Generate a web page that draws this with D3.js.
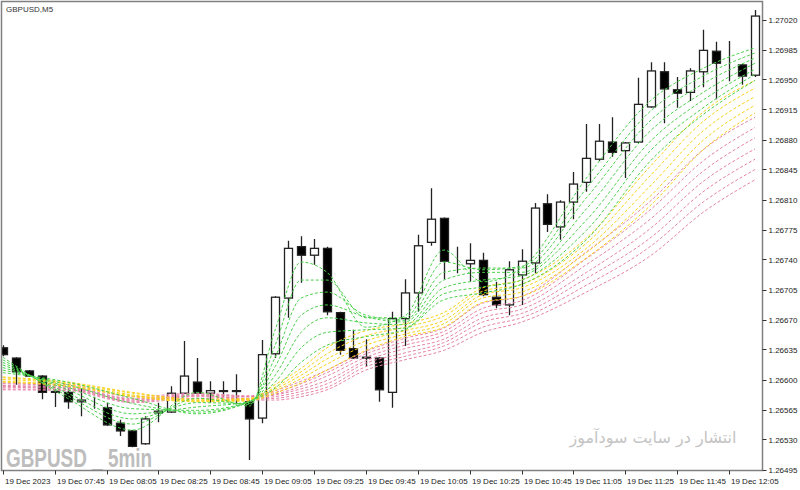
<!DOCTYPE html>
<html>
<head>
<meta charset="utf-8">
<script src="https://cdn.jsdelivr.net/npm/d3@7"></script>
<style>
body { margin: 0; background: #fff; }
svg { display: block; }
</style>
</head>
<body>
<div id="chart"></div>
<script>
// GBPUSD M5, 19 Dec 2023, bars from 07:25 to 12:15
var opens = [1.26637,1.26625,1.26610,1.26604,1.26586,1.26585,1.26574,1.26575,1.26567,1.26549,
    1.26540,1.26525,1.26561,1.26562,1.26584,1.26597,1.26584,1.26586,1.26587,1.26574,
    1.26555,1.26630,1.26695,1.26755,1.26745,1.26753,1.26678,1.26636,1.26626,1.26625,
    1.26585,1.26671,1.26701,1.26760,1.26788,1.26735,1.26735,1.26739,1.26696,1.26687,
    1.26722,1.26736,1.26805,1.26778,1.26807,1.26830,1.26857,1.26877,1.26867,1.26877,
    1.26918,1.26959,1.26938,1.26935,1.26959,1.26983,1.26968,1.26967,1.26955];
var highs = [1.26640,1.26626,1.26611,1.26605,1.26589,1.26590,1.26589,1.26580,1.26573,1.26553,
    1.26541,1.26557,1.26573,1.26592,1.26645,1.26625,1.26598,1.26598,1.26606,1.26576,
    1.26646,1.26697,1.26762,1.26767,1.26764,1.26755,1.26679,1.26658,1.26647,1.26626,
    1.26679,1.26717,1.26769,1.26823,1.26789,1.26755,1.26759,1.26748,1.26714,1.26738,
    1.26752,1.26806,1.26816,1.26809,1.26842,1.26898,1.26898,1.26906,1.26877,1.26952,
    1.26970,1.26970,1.26953,1.26963,1.27008,1.26994,1.26995,1.26968,1.27031];
var lows = [1.26627,1.26594,1.26603,1.26577,1.26568,1.26566,1.26557,1.26566,1.26546,1.26534,
    1.26521,1.26524,1.26550,1.26561,1.26583,1.26583,1.26573,1.26580,1.26571,1.26506,
    1.26549,1.26625,1.26672,1.26713,1.26734,1.26675,1.26629,1.26624,1.26615,1.26574,
    1.26567,1.26639,1.26679,1.26756,1.26717,1.26724,1.26714,1.26697,1.26683,1.26675,
    1.26687,1.26724,1.26772,1.26763,1.26787,1.26819,1.26855,1.26860,1.26835,1.26876,
    1.26917,1.26899,1.26917,1.26925,1.26941,1.26927,1.26948,1.26944,1.26953];
var closes = [1.26629,1.26609,1.26604,1.26585,1.26585,1.26574,1.26576,1.26575,1.26547,1.26540,
    1.26522,1.26554,1.26563,1.26584,1.26604,1.26584,1.26587,1.26587,1.26586,1.26554,
    1.26629,1.26696,1.26753,1.26745,1.26753,1.26679,1.26634,1.26625,1.26625,1.26588,
    1.26671,1.26701,1.26756,1.26787,1.26738,1.26735,1.26739,1.26699,1.26687,1.26728,
    1.26738,1.26800,1.26781,1.26807,1.26828,1.26858,1.26878,1.26865,1.26876,1.26921,
    1.26960,1.26939,1.26934,1.26960,1.26984,1.26969,1.26968,1.26954,1.27024];

// moving average ribbons, read at these bars (fast line first)
var maBars = [0, 5, 10, 15, 19, 21, 23, 25, 28, 31, 34, 37, 40, 45, 50, 54, 58];
var greenMA = [
    [1.26626,1.26578,1.26541,1.26585,1.26569,1.26658,1.26737,1.26725,1.26661,1.26674,1.26751,1.26714,1.26730,1.26835,1.26926,1.26963,1.26987],
    [1.26623,1.26581,1.26548,1.26578,1.26571,1.26640,1.26716,1.26716,1.26672,1.26672,1.26737,1.26728,1.26732,1.26823,1.26914,1.26954,1.26981],
    [1.26620,1.26584,1.26554,1.26573,1.26572,1.26626,1.26695,1.26702,1.26675,1.26669,1.26725,1.26730,1.26730,1.26812,1.26903,1.26945,1.26975],
    [1.26617,1.26588,1.26560,1.26568,1.26574,1.26615,1.26675,1.26687,1.26673,1.26667,1.26716,1.26725,1.26725,1.26799,1.26891,1.26935,1.26969],
    [1.26614,1.26591,1.26566,1.26564,1.26574,1.26605,1.26655,1.26672,1.26666,1.26664,1.26707,1.26716,1.26721,1.26786,1.26879,1.26926,1.26962],
    [1.26611,1.26594,1.26572,1.26562,1.26574,1.26597,1.26637,1.26655,1.26658,1.26660,1.26700,1.26708,1.26716,1.26774,1.26868,1.26917,1.26956],
    [1.26608,1.26597,1.26578,1.26560,1.26574,1.26590,1.26620,1.26640,1.26650,1.26658,1.26693,1.26701,1.26711,1.26763,1.26856,1.26909,1.26949]
];
var yellowMA = [
    [1.26603,1.26597,1.26585,1.26577,1.26578,1.26594,1.26613,1.26637,1.26657,1.26665,1.26678,1.26707,1.26716,1.26765,1.26850,1.26912,1.26949],
    [1.26602,1.26596,1.26584,1.26576,1.26577,1.26591,1.26609,1.26630,1.26651,1.26661,1.26674,1.26703,1.26711,1.26759,1.26839,1.26901,1.26940],
    [1.26600,1.26595,1.26582,1.26575,1.26577,1.26589,1.26605,1.26624,1.26645,1.26657,1.26669,1.26699,1.26707,1.26753,1.26827,1.26890,1.26930],
    [1.26598,1.26593,1.26581,1.26575,1.26576,1.26587,1.26601,1.26618,1.26640,1.26653,1.26665,1.26695,1.26702,1.26748,1.26815,1.26879,1.26920],
    [1.26597,1.26592,1.26580,1.26574,1.26575,1.26584,1.26596,1.26611,1.26634,1.26650,1.26661,1.26690,1.26697,1.26742,1.26804,1.26868,1.26911]
];
var pinkMA = [
    [1.26596,1.26594,1.26580,1.26584,1.26581,1.26587,1.26598,1.26611,1.26633,1.26648,1.26660,1.26689,1.26697,1.26749,1.26809,1.26868,1.26906],
    [1.26595,1.26592,1.26578,1.26583,1.26580,1.26585,1.26595,1.26608,1.26630,1.26644,1.26656,1.26683,1.26692,1.26741,1.26799,1.26855,1.26894],
    [1.26593,1.26591,1.26577,1.26582,1.26580,1.26583,1.26592,1.26604,1.26626,1.26640,1.26652,1.26678,1.26687,1.26734,1.26788,1.26843,1.26882],
    [1.26592,1.26590,1.26576,1.26581,1.26578,1.26582,1.26589,1.26599,1.26622,1.26636,1.26647,1.26672,1.26682,1.26725,1.26777,1.26831,1.26869],
    [1.26591,1.26589,1.26575,1.26581,1.26578,1.26580,1.26586,1.26595,1.26619,1.26631,1.26643,1.26667,1.26677,1.26718,1.26766,1.26819,1.26857],
    [1.26589,1.26588,1.26574,1.26580,1.26577,1.26578,1.26583,1.26591,1.26615,1.26627,1.26639,1.26661,1.26672,1.26710,1.26756,1.26807,1.26845],
    [1.26588,1.26587,1.26573,1.26578,1.26576,1.26576,1.26580,1.26588,1.26611,1.26623,1.26634,1.26655,1.26667,1.26702,1.26745,1.26795,1.26833]
];

var priceTicks = [1.27020,1.26985,1.26950,1.26915,1.26880,1.26845,1.26810,1.26775,
    1.26740,1.26705,1.26670,1.26635,1.26600,1.26565,1.26530,1.26495];
var timeTickBars = [0, 4, 8, 12, 16, 20, 24, 28, 32, 36, 40, 44, 48, 52, 56];
var timeLabels = ["19 Dec 2023","19 Dec 07:45","19 Dec 08:05","19 Dec 08:25","19 Dec 08:45",
    "19 Dec 09:05","19 Dec 09:25","19 Dec 09:45","19 Dec 10:05","19 Dec 10:25",
    "19 Dec 10:45","19 Dec 11:05","19 Dec 11:25","19 Dec 11:45","19 Dec 12:05"];

var width = 800, height = 490;
var plot = { left: 1.5, top: 1.5, right: 762.5, bottom: 470.5 };

var svg = d3.select("#chart").append("svg")
    .attr("width", width)
    .attr("height", height)
    .style("font-family", "'Liberation Sans', Arial, sans-serif");

var x = d3.scaleLinear().domain([0, opens.length - 1]).range([2.8, 755]);
var y = d3.scaleLinear().domain([1.26495, 1.27020]).range([469.5, 19.5]);

svg.append("clipPath").attr("id", "plotClip")
    .append("rect")
    .attr("x", plot.left).attr("y", plot.top)
    .attr("width", plot.right - plot.left).attr("height", plot.bottom - plot.top);

// watermarks
svg.append("text")
    .attr("x", 6)
    .attr("y", 467)
    .attr("textLength", 146)
    .attr("lengthAdjust", "spacingAndGlyphs")
    .style("font-size", "25px")
    .style("font-weight", "bold")
    .style("fill", "#bdbdbd")
    .text("GBPUSD _ 5min");

svg.append("text")
    .attr("x", 653)
    .attr("y", 443)
    .attr("text-anchor", "middle")
    .style("font-family", "'DejaVu Sans', sans-serif")
    .style("font-size", "16px")
    .style("fill", "#c4c4c4")
    .text("انتشار در سایت سودآموز");

var chart = svg.append("g").attr("clip-path", "url(#plotClip)");

// candles
var bars = d3.range(opens.length);
var candles = chart.append("g").attr("class", "candles");

candles.selectAll("line.wick")
    .data(bars)
    .enter().append("line")
    .attr("class", "wick")
    .attr("x1", function (d) { return Math.round(x(d)) + 0.5; })
    .attr("x2", function (d) { return Math.round(x(d)) + 0.5; })
    .attr("y1", function (d) { return y(highs[d]); })
    .attr("y2", function (d) { return y(lows[d]); })
    .attr("stroke", "#222")
    .attr("stroke-width", 1.3);

candles.selectAll("rect.body")
    .data(bars)
    .enter().append("rect")
    .attr("class", "body")
    .attr("x", function (d) { return Math.round(x(d)) - 3.5; })
    .attr("width", 8)
    .attr("y", function (d) { return y(Math.max(opens[d], closes[d])); })
    .attr("height", function (d) { return Math.abs(y(opens[d]) - y(closes[d])); })
    .attr("fill", function (d) { return closes[d] >= opens[d] ? "#fff" : "#000"; })
    .attr("stroke", "#222")
    .attr("stroke-width", 1.3);

// ribbons: pink under yellow under green
var maLine = d3.line()
    .x(function (d, i) { return x(maBars[i]); })
    .y(function (d) { return y(d); })
    .curve(d3.curveMonotoneX);

function drawRibbon(series, color) {
    chart.append("g").selectAll("path")
        .data(series)
        .enter().append("path")
        .attr("d", maLine)
        .attr("fill", "none")
        .attr("stroke", color)
        .attr("stroke-width", 1)
        .attr("stroke-dasharray", "3,2");
}
drawRibbon(pinkMA, "#e583a6");
drawRibbon(yellowMA, "#f8d21c");
drawRibbon(greenMA, "#4cd04c");

// frame
svg.append("rect")
    .attr("x", plot.left).attr("y", plot.top)
    .attr("width", plot.right - plot.left).attr("height", plot.bottom - plot.top)
    .attr("fill", "none")
    .attr("stroke", "#808080")
    .attr("stroke-width", 1.5);

svg.append("text")
    .attr("x", 6)
    .attr("y", 12)
    .style("font-size", "8px")
    .style("fill", "#333")
    .text("GBPUSD,M5");

// price axis
var yAxis = svg.append("g");
yAxis.selectAll("line")
    .data(priceTicks)
    .enter().append("line")
    .attr("x1", plot.right).attr("x2", plot.right + 4)
    .attr("y1", function (d) { return Math.round(y(d)) + 0.5; })
    .attr("y2", function (d) { return Math.round(y(d)) + 0.5; })
    .attr("stroke", "#333");
yAxis.selectAll("text")
    .data(priceTicks)
    .enter().append("text")
    .attr("x", plot.right + 6)
    .attr("y", function (d) { return y(d) + 3; })
    .style("font-size", "8px")
    .style("fill", "#222")
    .text(function (d) { return d.toFixed(5); });

// time axis
var xAxis = svg.append("g");
xAxis.selectAll("line")
    .data(timeTickBars)
    .enter().append("line")
    .attr("x1", function (d) { return Math.round(x(d)) + 0.5; })
    .attr("x2", function (d) { return Math.round(x(d)) + 0.5; })
    .attr("y1", plot.bottom).attr("y2", plot.bottom + 4)
    .attr("stroke", "#333");
xAxis.selectAll("text")
    .data(timeTickBars)
    .enter().append("text")
    .attr("x", function (d) { return Math.round(x(d)) + 2; })
    .attr("y", 484)
    .style("font-size", "8px")
    .style("fill", "#222")
    .text(function (d, i) { return timeLabels[i]; });
</script>
</body>
</html>
